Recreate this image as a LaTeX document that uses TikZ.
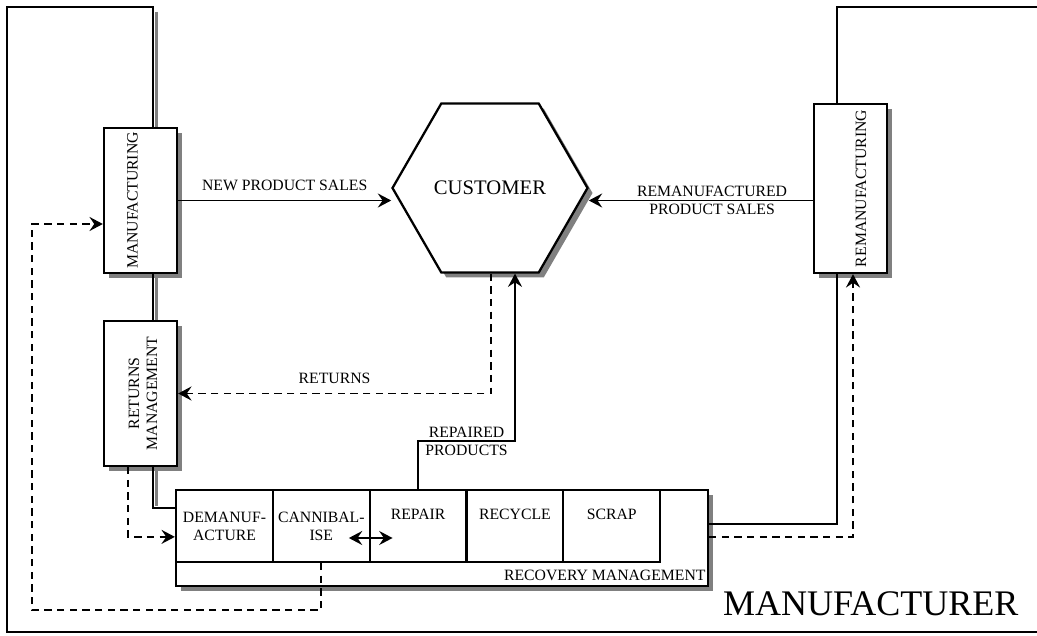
\documentclass[tikz,border=0pt]{standalone}
\usepackage{fontspec}
\setmainfont{Liberation Serif}
\usetikzlibrary{shapes.geometric,shadows,arrows.meta,calc}

\begin{document}
\begin{tikzpicture}[x=0.75pt, y=-0.75pt,
every node/.style={font=\fontsize{11.8}{13.5}\selectfont, inner sep=1pt, align=center},
arw/.tip={Stealth[length=10pt, width=10.5pt, inset=3.5pt]},
dropped/.style={drop shadow={shadow xshift=3.75pt, shadow yshift=-3.75pt, fill=black!50, opacity=1}},
unit/.style={draw, line width=1.7pt, fill=white, dropped, minimum width=54.75pt, minimum height=108.75pt},
cell/.style={draw, line width=1.6pt, minimum width=72.75pt, minimum height=54pt},
wall/.style={line width=1.5pt},
flow/.style={line width=1.35pt, -arw},
back/.style={flow, dash pattern=on 5.5pt off 4pt},
trade/.style={line width=1.35pt, arw-arw}
]
\useasboundingbox (0,0) rectangle (1037,635);

%shadow of the spine
\draw[black!50, line width=2.6pt] (156.5,12) -- (156.5,506);

\node[unit] (mfg) at (140.5,200.5) {};
\node[unit] (ret) at (140.5,393.5) {};
\node[unit, minimum height=126.75pt] (reman) at (850.5,188.5) {};
\node[rotate=90] (mfg-text) at ($(mfg)+(-8,0)$) {MANUFACTURING};
\node[rotate=90] (ret-text) at ($(ret)+(2.5,0)$) {RETURNS\\MANAGEMENT};
\node[rotate=90] (reman-text) at ($(reman)+(10.5,0)$) {REMANUFACTURING};

\node[regular polygon, regular polygon sides=6, minimum size=146.25pt, inner sep=0pt,
    draw, line width=1.7pt, fill=white, dropped, font=\fontsize{15.5}{18}\selectfont]
    (cust) at (490,188) {CUSTOMER};

\node[draw, line width=1.7pt, fill=white, dropped, minimum width=399pt, minimum height=72pt]
    (rec) at (442,538) {};
\foreach \n/\t [count=\i] in {dem/DEMANUF-\\ACTURE, can/CANNIBAL-\\ISE,
                              rep/REPAIR\\\strut, rcy/RECYCLE\\\strut, scr/SCRAP\\\strut}
    \node[cell] (\n) at (127.7+96.8*\i,526) {\t};
\node[anchor=east] (rec-label) at ($(rec.south east)+(-2,-12)$) {RECOVERY MANAGEMENT};

\node[anchor=base east, font=\fontsize{27}{30}\selectfont] (maker) at (1020,615) {MANUFACTURER};

\coordinate (tl) at (7,7);
\coordinate (bl) at (7,632);
\coordinate (br) at (1037,632);
\coordinate (tr) at (1037,7);
\coordinate (loop) at (32,610);

\draw[wall] ($(mfg.north)+(12.5,0)$) |- (tl) -- (bl) -- (br);
\draw[wall] ($(mfg.south)+(12.5,0)$) -- ($(ret.north)+(12.5,0)$);
\draw[wall] ($(ret.south)+(12.5,0)$) |- ($(rec.north west)+(0,19)$);
\draw[wall] ($(rec.north east)+(0,35)$) -| ($(reman.south)+(-14,0)$);
\draw[wall] ($(reman.north)+(-14,0)$) |- (tr);

\draw[flow] (mfg.east) -- (mfg.east -| cust.west)
    node[midway, above=6pt] (new-lbl) {NEW PRODUCT SALES};
\draw[flow] (reman.west |- mfg.east) -- (cust.east |- mfg.east)
    node[pos=0.45] (reman-lbl) {REMANUFACTURED\\PRODUCT SALES};
\draw[back] ($(cust.south)+(1,0)$) |- (ret.east)
    node[pos=0.75, above=6pt] (ret-lbl) {RETURNS};
\draw[flow] (rep.north) -- ++(0,-48) -| ($(cust.south)+(25,0)$)
    node[pos=0.25] (rep-lbl) {REPAIRED\\PRODUCTS};
\draw[trade] ($(can.east)+(-22,12)$) -- ($(rep.west)+(24,12)$);

\draw[back] (can.south) |- (loop) |- ($(mfg.west)+(0,23.5)$);
\draw[back] ($(ret.south)+(-12.5,0)$) |- ($(rec.north west)+(0,48)$);
\draw[back] ($(rec.north east)+(0,48)$) -| ($(reman.south)+(2.5,0)$);
%\draw[wall] (rec.east) -- (reman.south);
\end{tikzpicture}
\end{document}
